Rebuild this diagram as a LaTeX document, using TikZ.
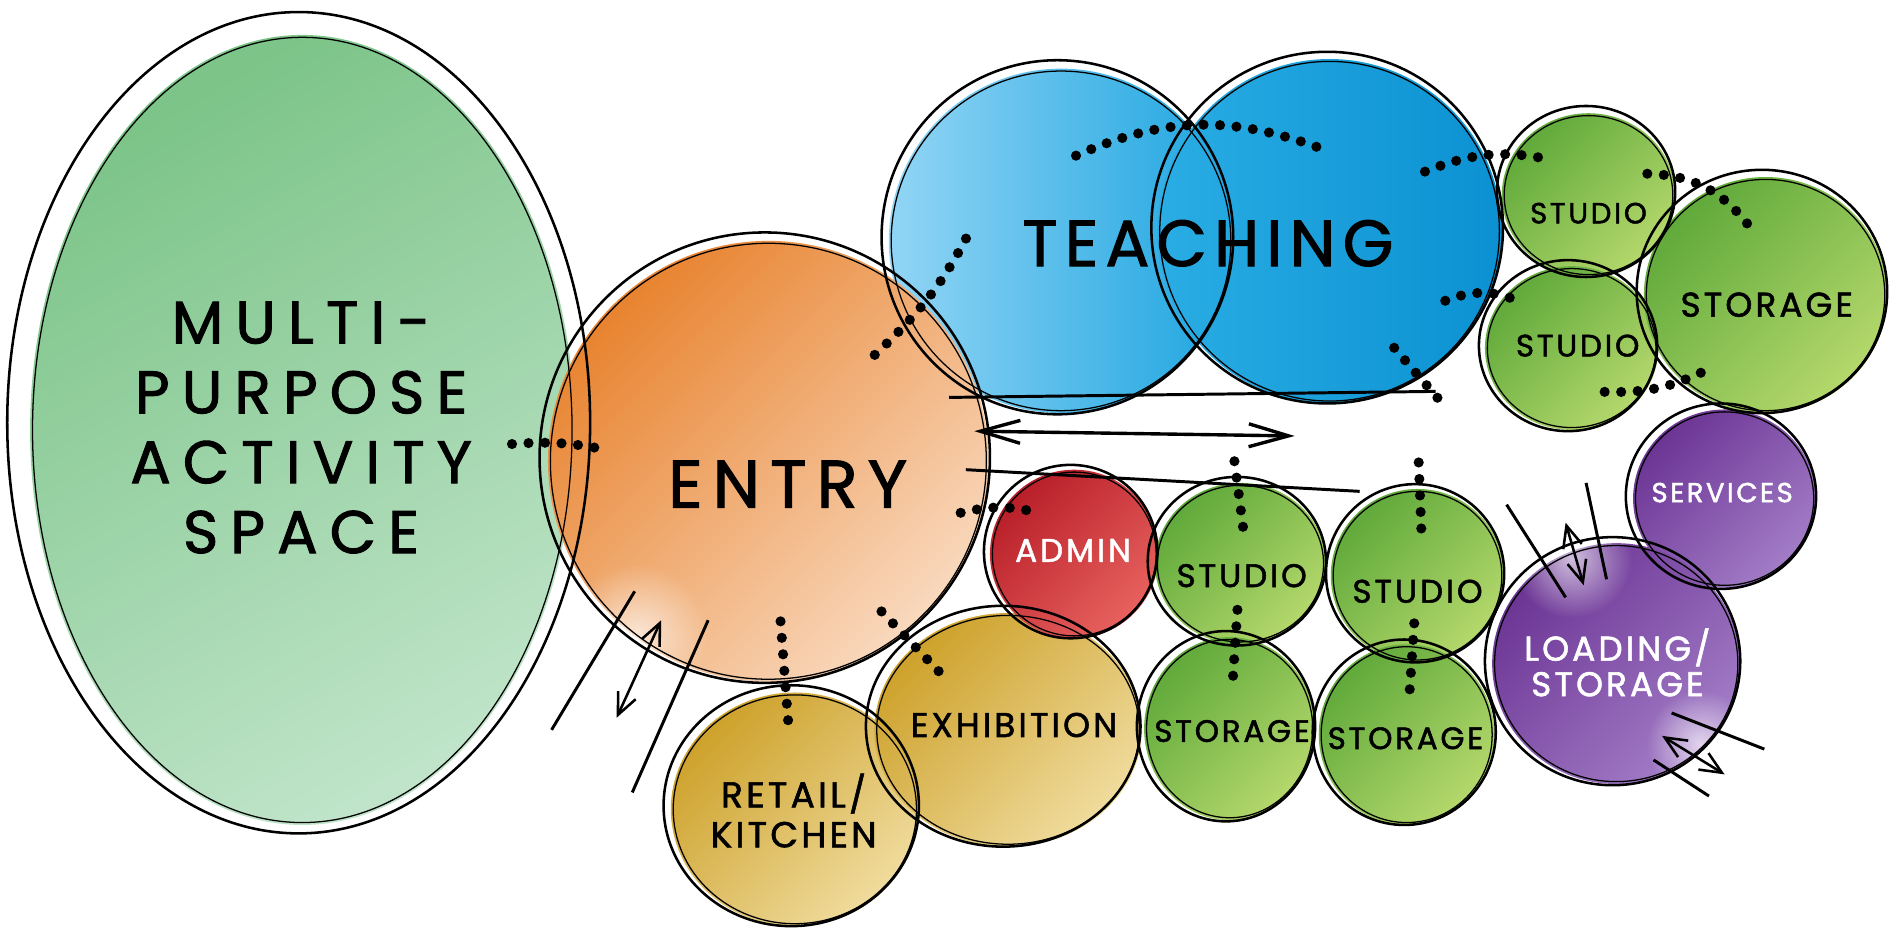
\documentclass[tikz,border=0pt]{standalone}
\usepackage{fontspec}
\usetikzlibrary{calc,shapes.geometric,arrows.meta,fadings}
\newfontfamily\hand{Poppins}[LetterSpace=9, FakeBold=1.6]
\definecolor{mpsA}{HTML}{7CC488}
\definecolor{mpsB}{HTML}{BFE4C9}
\definecolor{entryA}{HTML}{E8832F}
\definecolor{entryB}{HTML}{F9D9BE}
\definecolor{teachA}{HTML}{92D5F5}
\definecolor{teachB}{HTML}{1DA5E0}
\definecolor{teachC}{HTML}{2AADE4}
\definecolor{teachD}{HTML}{0B91D2}
\definecolor{studA}{HTML}{5FA93A}
\definecolor{studB}{HTML}{B5D86C}
\definecolor{purpA}{HTML}{6B3494}
\definecolor{purpB}{HTML}{A37DC7}
\definecolor{admA}{HTML}{B81E28}
\definecolor{admB}{HTML}{E8625F}
\definecolor{goldA}{HTML}{CDA12A}
\definecolor{goldB}{HTML}{F0DC9E}
\tikzfading[name=glow, inner color=transparent!15, outer color=transparent!100]
\begin{document}
\begin{tikzpicture}[x=0.01cm,y=0.01cm,
	bubble/.style={ellipse, inner sep=0pt},
	rim/.style={line width=.6pt},
	link/.style={line width=2.4pt, line cap=round, dash pattern=on 0pt off 3.9pt},
	tag/.style={font=\hand, align=center, inner sep=0pt},
	sketch/.style={line width=.7pt},
	flow/.style={line width=.6pt, arrows={Straight Barb[length=1.8mm,width=1.6mm]-Straight Barb[length=1.8mm,width=1.6mm]}},
	hallflow/.style={line width=.8pt, arrows={Straight Barb[length=3.3mm,width=1.9mm]-Straight Barb[length=3.3mm,width=1.9mm]}}]
		\useasboundingbox (0,0) rectangle (1576,778);
	% bubbles
		\foreach \n/\x/\y/\rx/\ry/\ca/\cb/\ang in {
			mps/251/421/226/328/mpsA/mpsB/30,
			teachL/881/578/143/143/teachA/teachB/90,
			teachR/1104/586/143/143/teachC/teachD/90,
			retail/660/106/103/97/goldA/goldB/45,
			exhibit/837/172/111/97/goldA/goldB/45,
			entry/638/395/183/183/entryA/entryB/45,
			admin/892/318/70/70/admA/admB/45,
			studioT/1319/616/72/68/studA/studB/45,
			studioM/1305/489/72/68/studA/studB/45,
			storageR/1466/533/101/98/studA/studB/45,
			studioA/1030/310/71/67/studA/studB/45,
			studioB/1177/300/72/72/studA/studB/45,
			storageA/1021/173/71/76/studA/studB/45,
			storageB/1168/168/73/75/studA/studB/45,
			services/1432/364/76/74/purpA/purpB/45,
			loading/1342/227/103/100/purpA/purpB/45}{
			\node[bubble, minimum width=2*\rx*0.01cm, minimum height=2*\ry*0.01cm,
				top color=\ca, bottom color=\cb, shading angle=\ang] (\n) at (\x,\y) {};
			}
	% ways in fade the bubbles
		\fill[white, opacity=.8, path fading=glow] (528,250) circle (60);
		\fill[white, opacity=.8, path fading=glow] (1305,315) circle (50);
		\fill[white, opacity=.8, path fading=glow] (1412,160) circle (45);
	% rims
		\foreach \n/\rx/\ry/\dx/\dy/\drx/\dry in {
			mps/226/328/-3/6/16/13, teachL/143/143/-3/3/3/4, teachR/143/143/-2/3/3/3,
			retail/103/97/-3/3/3/3, exhibit/111/97/-4/3/3/3, entry/183/183/-3/3/4/4,
			admin/70/70/-3/2/2/2, studioT/72/68/-2/3/2/3, studioM/72/68/-3/2/2/3,
			storageR/101/98/-3/3/3/3, studioA/71/67/-3/2/3/3, studioB/72/72/-2/2/2/2,
			storageA/71/76/-3/2/3/3, storageB/73/75/-2/2/3/2, services/76/74/-3/2/3/3,
			loading/103/100/-3/2/3/3}{
			\draw[rim] ($(\n)+(\dx,\dy)$) ellipse [x radius=\rx+\drx, y radius=\ry+\dry];
			\draw[rim, line width=.3pt] (\n) ellipse [x radius=\rx-2, y radius=\ry-2];
			}
	% labels
		\node[tag, font=\hand\fontsize{14.2}{16.5}\selectfont\addfontfeature{LetterSpace=20}] (mpstxt) at (250,423) {MULTI-\\PURPOSE\\ACTIVITY\\SPACE};
		\node[tag, font=\hand\fontsize{15.9}{18}\selectfont\addfontfeature{LetterSpace=15}] (entrytxt) at (654,376) {ENTRY};
		\node[tag, font=\hand\fontsize{15.4}{18}\selectfont\addfontfeature{LetterSpace=11}] (teachtxt) at (1003,576) {TEACHING};
		\node[tag, font=\hand\fontsize{6.9}{8}\selectfont] (studioTtxt) at (1319,601) {STUDIO};
		\node[tag, font=\hand\fontsize{7.3}{8}\selectfont] (studioMtxt) at (1310,491) {STUDIO};
		\node[tag, font=\hand\fontsize{8.1}{9}\selectfont] (storageRtxt) at (1467,525) {STORAGE};
		\node[tag, font=\hand\fontsize{6.5}{8}\selectfont, white] (servicestxt) at (1430,369) {SERVICES};
		\node[tag, font=\hand\fontsize{8.1}{8.4}\selectfont, white] (loadingtxt) at (1343,228) {LOADING/\\STORAGE};
		\node[tag, font=\hand\fontsize{7.7}{9}\selectfont, white] (admintxt) at (891,321) {ADMIN};
		\node[tag, font=\hand\fontsize{7.7}{9}\selectfont] (studioAtxt) at (1031,300) {STUDIO};
		\node[tag, font=\hand\fontsize{7.7}{9}\selectfont] (studioBtxt) at (1177,287) {STUDIO};
		\node[tag, font=\hand\fontsize{7.3}{9}\selectfont] (storageAtxt) at (1023,171) {STORAGE};
		\node[tag, font=\hand\fontsize{7.3}{9}\selectfont] (storageBtxt) at (1167,165) {STORAGE};
		\node[tag, font=\hand\fontsize{8.1}{9}\selectfont] (exhibittxt) at (842,176) {EXHIBITION};
		\node[tag, font=\hand\fontsize{8.5}{9.4}\selectfont] (retailtxt) at (659,105) {RETAIL/\\KITCHEN};
	% hall
		\coordinate (hallW) at (809,420);
		\coordinate (hallE) at (1075,416);
		\coordinate (hallT) at (1202,438);
		\coordinate (hallA) at (1025,395);
		\coordinate (hallB) at (1178,394);
		\draw[sketch] (788,448) -- (1192,453);
		\draw[sketch] (802,388) -- (1129,370);
		\draw[hallflow] (hallW) -- (hallE);
	% links
		\draw[link] ($(mps)!.45!(entry)$) to[bend left=8] ($(mps)!.66!(entry)$);
		\draw[link] ($(entry)!.68!(entry.45)$) to[out=43,in=-117] ($(teachL)!.52!(teachL.171)$);
		\draw[link] ($(teachL)!.5!(teachL.80)$) to[bend left=22] ($(teachR)!.49!(teachR.98)$);
		\draw[link] ($(teachR)!.65!(teachR.32)$) to[bend left=17] ($(studioT)!.58!(studioT.135)$);
		\draw[link] ($(studioT)!.72!(studioT.20)$) to[bend left=25] ($(storageR)!.61!(storageR.104)$);
		\draw[link] ($(teachR)!.78!(teachR.-31)$) to[bend left=24] ($(studioM)!.76!(studioM.137)$);
		\draw[link] ($(studioM)!.65!(studioM.-53)$) to[bend right=15] ($(storageR)!.73!(storageR.-126)$);
		\draw[link] ($(teachR)!.77!(teachR.-61)$) -- (hallT);
		\draw[link] (hallA) -- ($(studioA)!.45!(studioA.86)$);
		\draw[link] (hallB) -- ($(studioB)!.51!(studioB.85)$);
		\draw[link] ($(studioA)!.28!(storageA)$) -- ($(studioA)!.69!(storageA)$);
		\draw[link] ($(studioB)!.30!(storageB)$) -- ($(studioB)!.72!(storageB)$);
		\draw[link] ($(entry)!.90!(entry.-15)$) to[bend left=14] ($(admin)!.61!(admin.129)$);
		\draw[link] ($(entry)!.46!(retail)$) -- ($(entry)!.79!(retail)$);
		\draw[link] ($(entry)!.85!(entry.-53)$) -- ($(exhibit)!.6!(exhibit.141)$);
	% ways in
		\coordinate (doorA) at (512,182);
		\coordinate (doorB) at (549,263);
		\draw[sketch] (458,172) -- (527,287);
		\draw[sketch] (525,120) -- (588,263);
		\draw[flow] (doorA) -- (doorB);
		\coordinate (dockA) at (1300,344);
		\coordinate (dockB) at (1315,292);
		\draw[sketch] (1251,359) -- (1300,282);
		\draw[sketch] (1317,377) -- (1334,297);
		\draw[flow] (dockA) -- (dockB);
		\coordinate (yardA) at (1380,167);
		\coordinate (yardB) at (1432,135);
		\draw[sketch] (1388,186) -- (1465,156);
		\draw[sketch] (1373,147) -- (1419,117);
		\draw[flow] (yardA) -- (yardB);
\end{tikzpicture}
\end{document}
